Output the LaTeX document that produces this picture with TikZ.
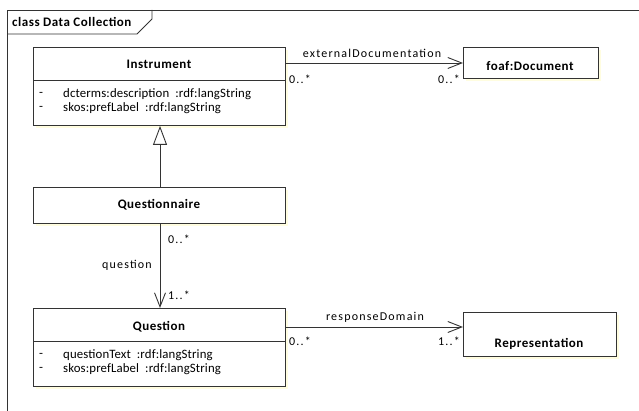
\documentclass[tikz,border=0pt]{standalone}
\usepackage{fontspec}
\setmainfont{Carlito}
\newfontfamily\titlefont[LetterSpace=4]{Carlito}
\newfontfamily\attrfont[LetterSpace=1]{Carlito}
\newfontfamily\lblfont[LetterSpace=10]{Carlito}
\usetikzlibrary{arrows.meta}
\begin{document}
\begin{tikzpicture}[x=1pt,y=-1pt,
  line/.style={draw=black!80, line width=0.9pt},
  umlbox/.style={draw=black!80, line width=0.9pt, fill=white, anchor=north west, inner sep=0pt},
  shade/.style={fill=yellow!12, draw=none},
  title/.style={font=\titlefont\fontsize{13}{15}\selectfont\bfseries, inner sep=0pt},
  attr/.style={font=\attrfont\fontsize{12.8}{14}\selectfont, inner sep=0pt, anchor=west},
  lbl/.style={font=\lblfont\fontsize{12}{14}\selectfont, inner sep=0pt},
  openarrow/.style={-{Straight Barb[length=14pt,width=11pt,line width=0.9pt]}},
  genarrow/.style={-{Triangle[open,length=19pt,width=14pt,line width=0.9pt]}}
]
\useasboundingbox (0,0) rectangle (639,411);
% frame
\coordinate (fbl) at (7,411);
\coordinate (ftl) at (7,10);
\coordinate (ftr) at (639,10);
\draw[line] (fbl) -- (ftl) -- (ftr);
\coordinate (t1) at (152,10);
\coordinate (t2) at (152,19);
\coordinate (t3) at (137,34);
\coordinate (t4) at (7,34);
\draw[line] (t1) -- (t2) -- (t3) -- (t4);
\node[title, anchor=west] (frametitle) at (12,22) {class Data Collection};

% shadows
\fill[shade] (36,50) rectangle (288,128);
\fill[shade] (36,190) rectangle (288,226);
\fill[shade] (36,311) rectangle (288,389);
\fill[shade] (466,50) rectangle (601,81);
\fill[shade] (466,315) rectangle (619,359);

% Instrument
\node[umlbox, minimum width=252pt, minimum height=78pt] (inst) at (33,47) {};
\node[title] (instT) at (159,64) {Instrument};
\coordinate (instDl) at (33,80);
\coordinate (instDr) at (285,80);
\draw[line] (instDl) -- (instDr);
\node[attr] (ia1d) at (39,94) {-};
\node[attr] (ia1) at (63,94) {dcterms:description\ \ :rdf:langString};
\node[attr] (ia2d) at (39,108) {-};
\node[attr] (ia2) at (63,108) {skos:prefLabel\ \ :rdf:langString};

% foaf:Document
\node[umlbox, minimum width=135pt, minimum height=31pt] (foaf) at (463,47) {};
\node[title] (foafT) at (530,66) {foaf:Document};

% Questionnaire
\node[umlbox, minimum width=252pt, minimum height=36pt] (qn) at (33,187) {};
\node[title] (qnT) at (159,205) {Questionnaire};

% Question
\node[umlbox, minimum width=252pt, minimum height=78pt] (q) at (33,308) {};
\node[title] (qT) at (159,327) {Question};
\coordinate (qDl) at (33,341);
\coordinate (qDr) at (285,341);
\draw[line] (qDl) -- (qDr);
\node[attr] (qa1d) at (39,355) {-};
\node[attr] (qa1) at (63,355) {questionText\ \ :rdf:langString};
\node[attr] (qa2d) at (39,369) {-};
\node[attr] (qa2) at (63,369) {skos:prefLabel\ \ :rdf:langString};

% Representation
\node[umlbox, minimum width=153pt, minimum height=44pt] (rep) at (463,312) {};
\node[title] (repT) at (539,344) {Representation};

% externalDocumentation
\draw[line, openarrow] (inst.north east |- 0,63) -- (foaf.north west |- 0,63);
\node[lbl] (edl) at (372,53) {externalDocumentation};
\node[lbl, anchor=west] (ed1) at (289,79) {0..*};
\node[lbl, anchor=east] (ed2) at (460,79) {0..*};

% generalization
\draw[line, genarrow] (qn.north -| 160,0) -- (inst.south -| 160,0);

% question
\draw[line, openarrow] (qn.south -| 160,0) -- (q.north -| 160,0);
\node[lbl, anchor=west] (qq1) at (168,239) {0..*};
\node[lbl, anchor=east] (qql) at (152,265) {question};
\node[lbl, anchor=west] (qq2) at (168,295) {1..*};

% responseDomain
\draw[line, openarrow] (q.north east |- 0,327) -- (rep.north west |- 0,327);
\node[lbl] (rdl) at (375,317) {responseDomain};
\node[lbl, anchor=west] (rd1) at (289,341) {0..*};
\node[lbl, anchor=east] (rd2) at (460,341) {1..*};
\end{tikzpicture}
\end{document}
